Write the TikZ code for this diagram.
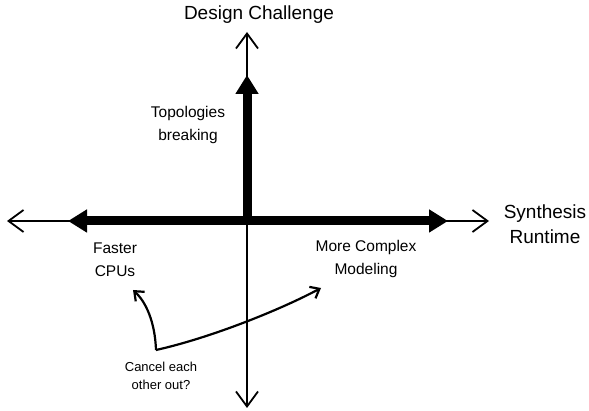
\documentclass[tikz,border=0pt]{standalone}
\usepackage{fontspec}
\setmainfont{Liberation Sans}
\usetikzlibrary{arrows.meta}

\begin{document}
\begin{tikzpicture}[x=1pt,y=-1pt,
    every node/.style={font=\fontsize{15.5}{23}\selectfont, align=center},
    axis/.style={line width=1.8pt, -{Straight Barb[length=15pt,width=22pt,line width=1.8pt]}},
    trend/.style={line width=9pt, -{Triangle[length=19pt,width=22pt]}},
    note/.style={line width=2.2pt, -{Straight Barb[length=8pt,width=13pt,line width=2.2pt]}},
    title/.style={font=\fontsize{19}{25}\selectfont}]
  \useasboundingbox (0,0) rectangle (589,411);

  % origin and ends of the axes
  \coordinate (o) at (247,221);
  \coordinate (left) at (7,221);
  \coordinate (right) at (489,221);
  \coordinate (top) at (247,32);
  \coordinate (bottom) at (247,408);

  \draw[axis] (o) -- (left);
  \draw[axis] (o) -- (right);
  \draw[axis] (o) -- (top);
  \draw[axis] (o) -- (bottom);

  % the trends pulling on each axis
  \coordinate (faster) at (68,221);
  \coordinate (complex) at (448,221);
  \coordinate (harder) at (247,75);
  \draw[trend] (o) -- (faster);
  \draw[trend] (o) -- (complex);
  \draw[trend] ([yshift=4.5pt]o) -- (harder);

  \node[title] (challenge) at (259,15) {Design Challenge};
  \node[title] (runtime) at (545,224) {Synthesis\\Runtime};
  \node (topo) at (188,125) {Topologies\\breaking};
  \node (cpus) at (115,260) {Faster\\CPUs};
  \node (model) at (366,259) {More Complex\\Modeling};

  % they may cancel each other out
  \node[font=\fontsize{13}{18}\selectfont] (cancel) at (161,376) {Cancel each\\other out?};
  \coordinate (split) at (156,350);
  \coordinate (cpu-end) at (133,290);
  \coordinate (model-end) at (321,288);
  \draw[note] (split) .. controls (155,322) and (146,302) .. (cpu-end);
  \draw[note] (split) .. controls (210,338) and (280,310) .. (model-end);
\end{tikzpicture}
\end{document}
